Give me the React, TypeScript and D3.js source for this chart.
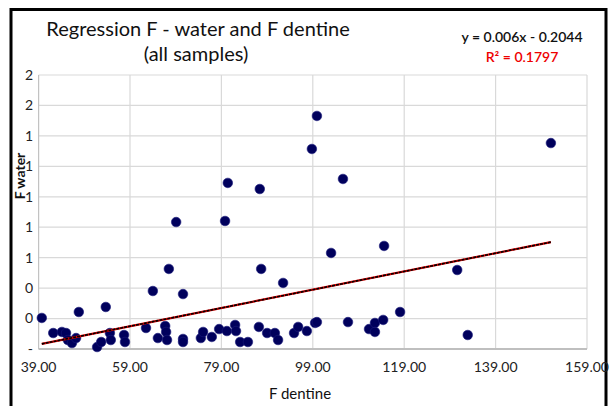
import React from "react";
import * as d3 from "d3";

const fDentine: number[] = [
  39.7, 42.2, 44.1, 45.0, 45.4, 46.3, 47.2, 47.8, 51.8, 52.7,
  53.7, 54.6, 54.8, 57.7, 57.9, 62.5, 64.0, 65.1, 66.7, 66.9,
  67.1, 67.5, 69.1, 70.6, 70.6, 70.6, 74.5, 75.0, 76.9, 78.5,
  79.8, 80.2, 80.4, 82.0, 82.2, 83.1, 84.8, 87.2, 87.4, 87.7,
  89.0, 90.7, 91.4, 92.5, 94.9, 95.8, 97.7, 98.8, 99.5, 99.9,
  99.9, 103.0, 105.6, 106.7, 111.3, 112.6, 112.6, 114.4, 114.6, 118.1,
  130.6, 132.9, 151.1,
];
const fWater: number[] = [
  0.204, 0.105, 0.112, 0.105, 0.059, 0.039, 0.072, 0.243, 0.013, 0.046,
  0.276, 0.105, 0.059, 0.092, 0.046, 0.138, 0.381, 0.072, 0.151, 0.112,
  0.059, 0.526, 0.834, 0.361, 0.066, 0.046, 0.072, 0.112, 0.079, 0.131,
  0.841, 0.118, 1.091, 0.158, 0.118, 0.046, 0.046, 0.145, 1.051, 0.526,
  0.105, 0.105, 0.059, 0.434, 0.105, 0.145, 0.118, 1.314, 0.171, 1.531,
  0.177, 0.631, 1.117, 0.177, 0.131, 0.171, 0.112, 0.191, 0.677, 0.243,
  0.519, 0.092, 1.353,
];
const xTicks: number[] = [39, 59, 79, 99, 119, 139, 159];
const yTicks: number[] = [0, 0.2, 0.4, 0.6, 0.8, 1.0, 1.2, 1.4, 1.6, 1.8];
const slope = 0.006;
const intercept = -0.2044;
const r2 = 0.1797;

const FONT = "Lato, 'Open Sans', sans-serif";

export default function App() {
  const left = 38.6, right = 587, top = 75, bottom = 349;
  const x = d3.scaleLinear().domain([39, 159]).range([left, right]);
  const y = d3.scaleLinear().domain([0, 1.8]).range([bottom, top]);
  const fmtY = (v: number) => (v === 0 ? "-" : String(Math.round(v)));
  const xMin = d3.min(fDentine) as number;
  const xMax = d3.max(fDentine) as number;
  const line = d3.line<number>().x((d) => x(d)).y((d) => y(slope * d + intercept));
  const trend = line([xMin, xMax]) as string;

  return (
    <svg width={614} height={406} style={{ position: "absolute", left: 0, top: 0, background: "#fff" }}>
      <rect x={0} y={0} width={614} height={406} fill="#fff" />
      <rect x={11} y={9.5} width={595} height={420} fill="none" stroke="#000" strokeWidth={3} />
      {/* gridlines */}
      {yTicks.map((t) => (
        <line key={"gy" + t} x1={left} x2={right} y1={y(t)} y2={y(t)} stroke="#d9d9d9" strokeWidth={1.2} />
      ))}
      {xTicks.map((t) => (
        <line key={"gx" + t} x1={x(t)} x2={x(t)} y1={top} y2={bottom} stroke="#d9d9d9" strokeWidth={1.2} />
      ))}
      <line x1={left} x2={right} y1={bottom} y2={bottom} stroke="#bfbfbf" strokeWidth={2} />
      <line x1={left} x2={left} y1={top} y2={bottom} stroke="#bfbfbf" strokeWidth={1} />
      {/* y tick labels */}
      {yTicks.map((t) => (
        <text key={"ty" + t} x={33} y={y(t)} dy="0.35em" textAnchor="end" fontFamily={FONT} fontSize={14} fill="#222">
          {fmtY(t)}
        </text>
      ))}
      {/* x tick labels */}
      {xTicks.map((t) => (
        <text key={"tx" + t} x={x(t)} y={372} textAnchor="middle" fontFamily={FONT} fontSize={14} fill="#222">
          {t.toFixed(2)}
        </text>
      ))}
      {/* points */}
      {fDentine.map((d, i) => (
        <circle key={"p" + i} cx={x(d)} cy={y(fWater[i])} r={4.8} fill="#00005c" stroke="#1a1a7a" strokeWidth={0.6} />
      ))}
      {/* trendline */}
      <path d={trend} stroke="#e00000" strokeWidth={2.2} fill="none" />
      <path d={trend} stroke="#000" strokeWidth={1.6} strokeDasharray="3,1" fill="none" />
      {/* titles */}
      <text x={198} y={36} textAnchor="middle" fontFamily={FONT} fontSize={20} fill="#111">
        Regression F - water and F dentine
      </text>
      <text x={196} y={61} textAnchor="middle" fontFamily={FONT} fontSize={20} fill="#111">
        (all samples)
      </text>
      <text x={522} y={42} textAnchor="middle" fontFamily={FONT} fontSize={14} fontWeight={600} fill="#111">
        {`y = ${slope}x - ${Math.abs(intercept)}`}
      </text>
      <text x={522} y={62} textAnchor="middle" fontFamily={FONT} fontSize={14} fontWeight={600} fill="#ee0000">
        R² = {r2}
      </text>
      <text x={300} y={399} textAnchor="middle" fontFamily={FONT} fontSize={15} fill="#111">
        F dentine
      </text>
      <text transform="translate(24.5,176) rotate(-90)" textAnchor="middle" fontFamily={FONT} fontSize={14} fontWeight={700} fill="#111">
        F water
      </text>
    </svg>
  );
}
